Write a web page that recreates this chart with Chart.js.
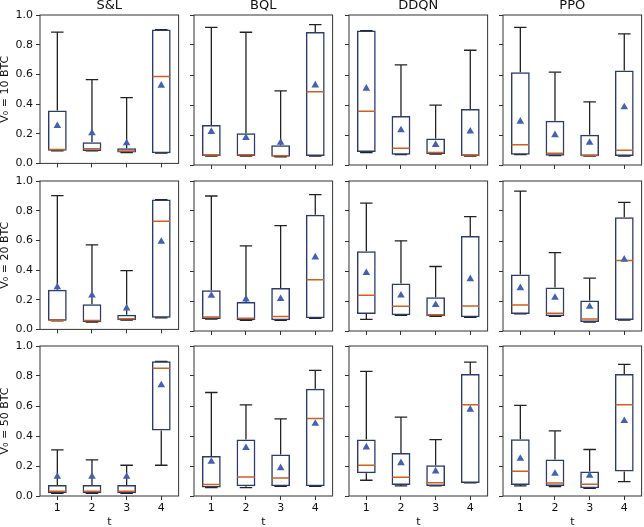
<!DOCTYPE html>
<html>
<head>
<meta charset="utf-8">
<script src="https://cdn.jsdelivr.net/npm/chart.js@4.4.1/dist/chart.umd.min.js"></script>
<style>
  html, body { margin: 0; padding: 0; background: #fff; }
  #wrap { position: relative; width: 644px; height: 527px; overflow: hidden; }
  #wrap canvas { position: absolute; }
</style>
</head>
<body>
<div id="wrap"></div>
<script>
const methods = ['S&L', 'BQL', 'DDQN', 'PPO'];
const budgets = ['10', '20', '50'];
const steps = [1, 2, 3, 4];

// every stat array: [budget row][method column][t]
const whiskerLow = [
  [[0.085, 0.084, 0.073, 0.069], [0.060, 0.060, 0.055, 0.060], [0.082, 0.069, 0.073, 0.060], [0.069, 0.062, 0.060, 0.060]],
  [[0.058, 0.049, 0.062, 0.078], [0.080, 0.071, 0.071, 0.085], [0.078, 0.105, 0.098, 0.091], [0.114, 0.098, 0.060, 0.073]],
  [[0.018, 0.018, 0.018, 0.205], [0.056, 0.056, 0.065, 0.065], [0.105, 0.067, 0.067, 0.087], [0.067, 0.062, 0.051, 0.096]]
];
const q1 = [
  [[0.085, 0.084, 0.073, 0.069], [0.060, 0.060, 0.055, 0.060], [0.086, 0.069, 0.073, 0.060], [0.069, 0.062, 0.060, 0.060]],
  [[0.058, 0.049, 0.062, 0.078], [0.080, 0.071, 0.071, 0.085], [0.114, 0.105, 0.098, 0.091], [0.114, 0.098, 0.060, 0.073]],
  [[0.018, 0.018, 0.018, 0.437], [0.056, 0.065, 0.065, 0.065], [0.151, 0.073, 0.067, 0.087], [0.073, 0.067, 0.051, 0.163]]
];
const median = [
  [[0.093, 0.098, 0.084, 0.585], [0.067, 0.069, 0.062, 0.488], [0.359, 0.111, 0.084, 0.067], [0.135, 0.078, 0.064, 0.098]],
  [[0.062, 0.060, 0.071, 0.728], [0.094, 0.085, 0.096, 0.341], [0.238, 0.165, 0.109, 0.167], [0.174, 0.118, 0.080, 0.470]],
  [[0.031, 0.031, 0.031, 0.851], [0.076, 0.127, 0.120, 0.517], [0.205, 0.125, 0.089, 0.608], [0.165, 0.087, 0.078, 0.608]]
];
const q3 = [
  [[0.357, 0.142, 0.102, 0.902], [0.266, 0.211, 0.131, 0.887], [0.896, 0.326, 0.177, 0.373], [0.619, 0.295, 0.202, 0.630]],
  [[0.267, 0.169, 0.098, 0.875], [0.272, 0.194, 0.287, 0.775], [0.532, 0.316, 0.225, 0.633], [0.376, 0.290, 0.203, 0.759]],
  [[0.073, 0.073, 0.073, 0.898], [0.267, 0.376, 0.276, 0.715], [0.376, 0.287, 0.205, 0.813], [0.379, 0.243, 0.163, 0.813]]
];
const whiskerHigh = [
  [[0.885, 0.565, 0.443, 0.902], [0.918, 0.885, 0.494, 0.936], [0.896, 0.667, 0.399, 0.765], [0.918, 0.619, 0.421, 0.874]],
  [[0.902, 0.570, 0.396, 0.875], [0.900, 0.568, 0.702, 0.909], [0.853, 0.601, 0.430, 0.762], [0.933, 0.523, 0.352, 0.857]],
  [[0.307, 0.241, 0.205, 0.898], [0.690, 0.608, 0.514, 0.837], [0.831, 0.526, 0.376, 0.893], [0.604, 0.434, 0.310, 0.877]]
];
const mean = [
  [[0.253, 0.204, 0.137, 0.525], [0.222, 0.182, 0.149, 0.532], [0.510, 0.233, 0.135, 0.224], [0.290, 0.200, 0.149, 0.386]],
  [[0.285, 0.229, 0.143, 0.592], [0.236, 0.212, 0.214, 0.492], [0.388, 0.238, 0.174, 0.347], [0.287, 0.223, 0.163, 0.477]],
  [[0.129, 0.129, 0.129, 0.739], [0.229, 0.321, 0.187, 0.483], [0.325, 0.220, 0.165, 0.577], [0.249, 0.149, 0.136, 0.501]]
];
const yTicks = [0, 0.2, 0.4, 0.6, 0.8, 1.0];

Chart.defaults.font.family = "'DejaVu Sans', sans-serif";
Chart.defaults.color = '#111';

// panel placement (plot area corners)
const plotLeft = [40, 194, 349, 503];
const plotTop = [15, 181, 346];
const plotW = 140, plotH = 150;
const capHalf = 0.18, boxHalf = 0.25;

const frame = {
  id: 'frame',
  afterDraw(chart) {
    const a = chart.chartArea, ctx = chart.ctx;
    ctx.save();
    ctx.strokeStyle = '#333';
    ctx.lineWidth = 1;
    ctx.strokeRect(a.left, a.top, a.right - a.left, a.bottom - a.top);
    ctx.restore();
  }
};

const wrap = document.getElementById('wrap');

for (let r = 0; r < budgets.length; r++) {
  for (let c = 0; c < methods.length; c++) {
    const yW = c === 0 ? 40 : 8;
    const topH = r === 0 ? 15 : 10;
    const xH = r === budgets.length - 1 ? 527 - (plotTop[r] + plotH) : 8;
    const padR = 3;

    const cv = document.createElement('canvas');
    cv.width = yW + plotW + padR;
    cv.height = topH + plotH + xH;
    cv.style.left = (plotLeft[c] - yW) + 'px';
    cv.style.top = (plotTop[r] - topH) + 'px';
    wrap.appendChild(cv);

    const lo = whiskerLow[r][c], b1 = q1[r][c], md = median[r][c], b3 = q3[r][c], hi = whiskerHigh[r][c], mn = mean[r][c];
    let stems = [], caps = [], meds = [];
    steps.forEach((t, i) => {
      stems.push({x: t, y: b3[i]}, {x: t, y: hi[i]}, {x: t, y: null},
                 {x: t, y: b1[i]}, {x: t, y: lo[i]}, {x: t, y: null});
      caps.push({x: t - capHalf, y: hi[i]}, {x: t + capHalf, y: hi[i]}, {x: t, y: null},
                {x: t - capHalf, y: lo[i]}, {x: t + capHalf, y: lo[i]}, {x: t, y: null});
      meds.push({x: t - boxHalf, y: md[i]}, {x: t + boxHalf, y: md[i]}, {x: t, y: null});
    });

    new Chart(cv, {
      type: 'bar',
      data: {
        datasets: [
          {
            type: 'line', order: 0,
            data: steps.map((t, i) => ({x: t, y: mn[i]})),
            showLine: false,
            pointStyle: 'triangle',
            pointRadius: 4.4,
            pointBackgroundColor: '#4162b2',
            pointBorderWidth: 0
          },
          {
            type: 'line', order: 1, data: meds,
            borderColor: '#d0601c', borderWidth: 1.5, pointRadius: 0, spanGaps: false
          },
          {
            order: 2,
            data: steps.map((t, i) => ({x: t, y: [b1[i], b3[i]]})),
            backgroundColor: 'rgba(255,255,255,0)',
            borderColor: '#2b3c6c',
            borderWidth: 1.5,
            borderSkipped: false,
            inflateAmount: 0,
            grouped: false,
            barPercentage: 1,
            categoryPercentage: 0.543
          },
          {
            type: 'line', order: 3, data: caps,
            borderColor: '#222', borderWidth: 1.3, pointRadius: 0, spanGaps: false
          },
          {
            type: 'line', order: 4, data: stems,
            borderColor: '#222', borderWidth: 1.3, pointRadius: 0, spanGaps: false
          }
        ]
      },
      options: {
        responsive: false,
        animation: false,
        events: [],
        devicePixelRatio: 1,
        layout: { padding: { top: r === 0 ? 0 : 10, right: padR, left: 0, bottom: 0 } },
        plugins: {
          legend: { display: false },
          tooltip: { enabled: false },
          title: {
            display: r === 0,
            text: methods[c],
            fullSize: false,
            color: '#111',
            font: { size: 13, weight: 'normal', lineHeight: 0.8 },
            padding: { top: 0, bottom: 4.6 }
          }
        },
        scales: {
          x: {
            type: 'linear',
            min: 0.5, max: 4.5,
            offset: false,
            afterBuildTicks: s => { s.ticks = steps.map(v => ({value: v})); },
            afterFit: s => { s.height = xH; },
            grid: { display: true, drawOnChartArea: false, drawTicks: true, tickLength: 4, color: '#333', offset: false },
            border: { display: false },
            ticks: { display: r === budgets.length - 1, padding: 2, font: { size: 11 }, color: '#111', callback: v => String(v) },
            title: { display: r === budgets.length - 1, text: 't', padding: 0, font: { size: 11, lineHeight: 0.8 }, color: '#111' }
          },
          y: {
            min: 0, max: 1,
            afterBuildTicks: s => { s.ticks = yTicks.map(v => ({value: v})); },
            afterFit: s => { s.width = yW; },
            grid: { display: true, drawOnChartArea: false, drawTicks: true, tickLength: 4, color: '#333' },
            border: { display: false },
            ticks: { display: c === 0, padding: 3, font: { size: 11 }, color: '#111', callback: v => v.toFixed(1) },
            title: { display: c === 0, text: 'V\u2080 = ' + budgets[r] + ' BTC', padding: 0, font: { size: 11, lineHeight: 0.9 }, color: '#111' }
          }
        }
      },
      plugins: [frame]
    });
  }
}
</script>
</body>
</html>
